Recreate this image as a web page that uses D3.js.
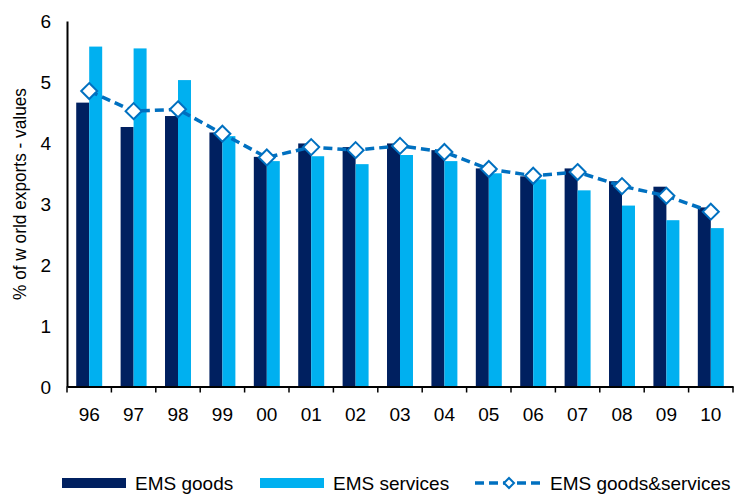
<!DOCTYPE html>
<html>
<head>
<meta charset="utf-8">
<script src="https://cdn.jsdelivr.net/npm/d3@7"></script>
<style>
  body { margin: 0; background: #fff; }
  text { font-family: "Liberation Sans", Arial, sans-serif; fill: #000; }
</style>
</head>
<body>
<div class="chart"></div>
<script>
// data
const years = ["96", "97", "98", "99", "00", "01", "02", "03", "04", "05", "06", "07", "08", "09", "10"];
const goods = [4.66, 4.26, 4.44, 4.17, 3.77, 3.99, 3.93, 3.99, 3.88, 3.58, 3.45, 3.58, 3.37, 3.28, 2.94];
const services = [5.58, 5.55, 5.03, 4.11, 3.70, 3.78, 3.65, 3.80, 3.70, 3.50, 3.40, 3.22, 2.97, 2.73, 2.60];
const total = [4.85, 4.52, 4.55, 4.15, 3.76, 3.93, 3.88, 3.95, 3.85, 3.57, 3.46, 3.52, 3.29, 3.13, 2.87];
const yTicks = [0, 1, 2, 3, 4, 5, 6];

const width = 740, height = 495;
const navy = "#002060", cyan = "#00B0F0", lineBlue = "#0070C0";

const svg = d3.select(".chart").append("svg")
    .attr("width", width)
    .attr("height", height);

// plot area
let plotLeft = 67, plotRight = 733, plotTop = 21, plotBottom = 386.5;

let xScale = d3.scaleBand()
    .domain(years)
    .range([plotLeft, plotRight])
    .paddingInner(0.415)
    .paddingOuter(0.2075);

let yScale = d3.scaleLinear()
    .domain([0, 6])
    .range([plotBottom, plotTop]);

let barW = xScale.bandwidth() / 2;

// bars
let groups = svg.append("g").selectAll("g")
    .data(years)
    .enter()
    .append("g");

groups.append("rect")
    .attr("x", d => xScale(d))
    .attr("y", (d, i) => yScale(goods[i]))
    .attr("width", barW)
    .attr("height", (d, i) => plotBottom - yScale(goods[i]))
    .attr("fill", navy);

groups.append("rect")
    .attr("x", d => xScale(d) + barW)
    .attr("y", (d, i) => yScale(services[i]))
    .attr("width", barW)
    .attr("height", (d, i) => plotBottom - yScale(services[i]))
    .attr("fill", cyan);

// y axis
let yAxis = svg.append("g")
    .attr("transform", "translate(" + plotLeft + ",0)")
    .call(d3.axisLeft(yScale).tickValues(yTicks).tickFormat(d3.format("d")).tickSize(0).tickPadding(16));
yAxis.select(".domain").attr("stroke", "#000").attr("stroke-width", 2);
yAxis.selectAll("text").style("font-size", "19px").attr("dy", "0.35em");

// x axis, ticks on category boundaries
let xAxis = svg.append("g")
    .attr("transform", "translate(0," + plotBottom + ")")
    .call(d3.axisBottom(xScale).tickSize(0).tickPadding(28));
xAxis.select(".domain").attr("stroke", "#000").attr("stroke-width", 2);
xAxis.selectAll("text").style("font-size", "19px").attr("dy", "0.35em");

let step = xScale.step();
let bounds = d3.range(years.length + 1).map(i => plotLeft + i * step);
xAxis.selectAll("line.bound")
    .data(bounds)
    .enter()
    .append("line")
    .attr("class", "bound")
    .attr("x1", d => d).attr("x2", d => d)
    .attr("y1", 0).attr("y2", 6)
    .attr("stroke", "#000")
    .attr("stroke-width", 1.5);

// y axis title
svg.append("text")
    .attr("transform", "translate(26,194) rotate(-90)")
    .attr("text-anchor", "middle")
    .attr("textLength", 212)
    .attr("lengthAdjust", "spacingAndGlyphs")
    .style("font-size", "18px")
    .text("% of w orld exports - values");

// line with diamonds
let cx = d => xScale(d) + barW;
let line = d3.line()
    .x(d => cx(d))
    .y((d, i) => yScale(total[i]));

svg.append("path")
    .datum(years)
    .attr("d", line)
    .attr("fill", "none")
    .attr("stroke", lineBlue)
    .attr("stroke-width", 3.5)
    .attr("stroke-dasharray", "9,5");

let diamond = r => "M0," + (-r) + "L" + r + ",0L0," + r + "L" + (-r) + ",0Z";

svg.append("g").selectAll("path")
    .data(years)
    .enter()
    .append("path")
    .attr("transform", (d, i) => "translate(" + cx(d) + "," + yScale(total[i]) + ")")
    .attr("d", diamond(8))
    .attr("fill", "#fff")
    .attr("stroke", lineBlue)
    .attr("stroke-width", 2);

// legend
let legend = svg.append("g");
legend.append("rect").attr("x", 62).attr("y", 478).attr("width", 64).attr("height", 10).attr("fill", navy);
legend.append("text").attr("x", 135).attr("y", 490).style("font-size", "19px").text("EMS goods");
legend.append("rect").attr("x", 260).attr("y", 478).attr("width", 64).attr("height", 10).attr("fill", cyan);
legend.append("text").attr("x", 333).attr("y", 490).style("font-size", "19px").text("EMS services");
legend.append("line")
    .attr("x1", 475).attr("x2", 542).attr("y1", 483).attr("y2", 483)
    .attr("stroke", lineBlue).attr("stroke-width", 3.5).attr("stroke-dasharray", "9,5");
legend.append("path")
    .attr("transform", "translate(509,483)")
    .attr("d", diamond(5))
    .attr("fill", "#fff")
    .attr("stroke", lineBlue)
    .attr("stroke-width", 2);
legend.append("text").attr("x", 550).attr("y", 490).style("font-size", "19px").text("EMS goods&services");
</script>
</body>
</html>
